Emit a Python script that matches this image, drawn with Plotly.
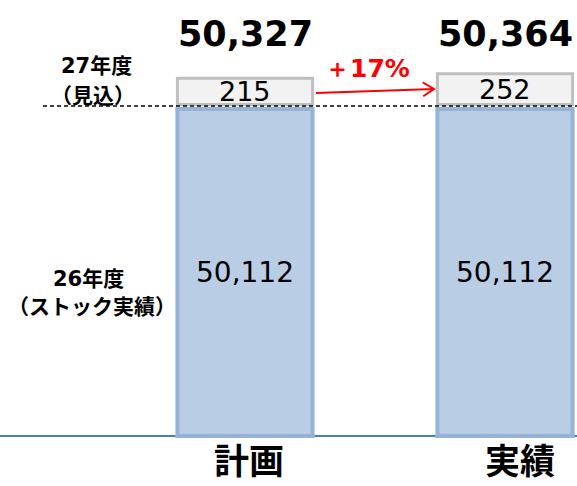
import math
import plotly.graph_objects as go

# ---- data ----
categories = ["計画", "実績"]
base_values = [50112, 50112]      # 26年度（ストック実績）
top_values = [215, 252]           # 27年度（見込）
side_labels_top = ["27年度", "（見込）"]
side_labels_base = ["26年度", "（ストック実績）"]

W, H = 577, 486
def px(x):
    return x / W
def py(y):
    return 1 - y / H

totals = [b + t for b, t in zip(base_values, top_values)]
pct = round((top_values[1] - top_values[0]) / top_values[0] * 100)

fig = go.Figure()
fig.add_trace(go.Bar(
    x=categories, y=base_values, xaxis="x", yaxis="y",
    marker=dict(color="#b9cde5", line=dict(color="#95b3d7", width=4)),
    hoverinfo="skip",
))
fig.add_trace(go.Bar(
    x=categories, y=top_values, xaxis="x2", yaxis="y2",
    marker=dict(color="#f2f2f2", line=dict(color="#bfbfbf", width=3)),
    hoverinfo="skip",
))

# scales: bottom axis 0 at y=436px, 50112 at 109px ; top axis 0 at 104.5px
k1 = base_values[0] / (436 - 109)
k2 = 8.2
xr = [-245 / 260, (W - 245) / 260]

annotations = []
num_font = "DejaVu Sans"
cjk_font = "Noto Sans CJK JP"
mix_font = "DejaVu Sans, Noto Sans CJK JP"
C = dict(showarrow=False, xanchor="center", yanchor="middle")
for i, c in enumerate(categories):
    annotations.append(dict(x=c, xref="x", y=py(34), yref="paper", text=f"{totals[i]:,}",
                            font=dict(family=num_font, size=35, color="#000", weight="bold"), **C))
    annotations.append(dict(x=c, xref="x", y=base_values[i] / 2, yref="y", text=f"{base_values[i]:,}",
                            font=dict(family=num_font, size=28, color="#000"), **C))
    annotations.append(dict(x=c, xref="x2", y=top_values[i] / 2, yref="y2", text=f"{top_values[i]:,}",
                            font=dict(family=num_font, size=27, color="#000"), **C))
for c, xs in zip(categories, [4, 15]):
    annotations.append(dict(x=c, xref="x", xshift=xs, y=0, yref="paper", text=c,
                            showarrow=False, xanchor="center", yanchor="bottom",
                            font=dict(family=cjk_font, size=35, color="#000", weight="bold")))
for txt, yy, xx in zip(side_labels_top, [66, 96], [96, 93]):
    annotations.append(dict(x=px(xx), xref="paper", y=py(yy), yref="paper", text=txt,
                            font=dict(family=mix_font, size=21, color="#000", weight="bold"), **C))
for txt, yy, xx in zip(side_labels_base, [279, 307], [88, 92]):
    annotations.append(dict(x=px(xx), xref="paper", y=py(yy), yref="paper", text=txt,
                            font=dict(family=mix_font, size=21, color="#000", weight="bold"), **C))
annotations.append(dict(x=px(368), xref="paper", y=py(69), yref="paper", text=f"＋{pct}%",
                        font=dict(family=num_font, size=25, color="#ff0000", weight="bold"), **C))

# arrow shapes (pixel-based decoration)
x0, y0, x1, y1 = 316, 93, 434, 89
ang = math.atan2(y1 - y0, x1 - x0)
hl = 13
heads = []
for s in (1, -1):
    a = ang + math.pi - s * math.radians(32)
    heads.append((x1 + hl * math.cos(a), y1 + hl * math.sin(a)))

def P(x, y):
    return f"{px(x)},{py(y)}"

shapes = [
    dict(type="line", xref="paper", yref="y", x0=0, x1=1, y0=0, y1=0,
         line=dict(color="#4a7ebb", width=2), layer="below"),
    dict(type="line", xref="paper", yref="paper", x0=px(43), x1=1, y0=py(106), y1=py(106),
         line=dict(color="#000", width=1.5, dash="4px,3px"), layer="above"),
    dict(type="path", xref="paper", yref="paper",
         path=f"M{P(x0, y0)} L{P(x1, y1)} M{P(*heads[0])} L{P(x1, y1)} L{P(*heads[1])}",
         line=dict(color="#ff0000", width=2)),
]

fig.update_layout(
    width=W, height=H, margin=dict(l=0, r=0, t=0, b=0),
    paper_bgcolor="white", plot_bgcolor="rgba(0,0,0,0)",
    showlegend=False, bargap=0.48, hovermode=False,
    xaxis=dict(domain=[0, 1], range=xr, visible=False, anchor="y"),
    xaxis2=dict(domain=[0, 1], range=xr, visible=False, anchor="y2", matches="x"),
    yaxis=dict(domain=[py(446), py(105)], range=[(436 - 446) * k1, (436 - 105) * k1], visible=False),
    yaxis2=dict(domain=[py(106), 1], range=[(104.5 - 106) * k2, 104.5 * k2], visible=False),
    annotations=annotations, shapes=shapes,
)
fig.write_html("out.html", config={"displayModeBar": False, "staticPlot": True},
               post_script="document.body.style.margin='0';document.body.style.overflow='hidden';")
